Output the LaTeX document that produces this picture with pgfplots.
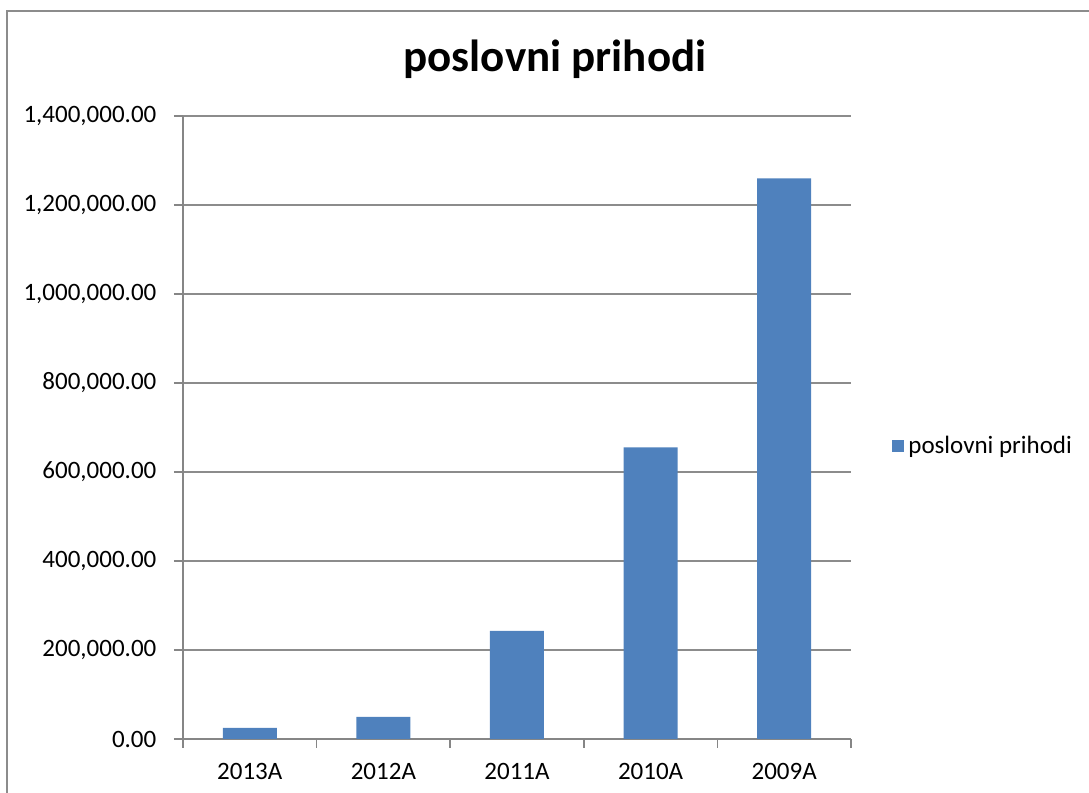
\documentclass[border=0pt]{standalone}
\usepackage{pgfplots}
\pgfplotsset{compat=1.18}
\usepackage{fontspec}
\setmainfont{Carlito}
\definecolor{barblue}{HTML}{4F81BD}
\definecolor{axgray}{HTML}{868686}
\definecolor{gridgray}{HTML}{8C8C8C}
\begin{document}
\begin{tikzpicture}
\useasboundingbox (0,0) rectangle (544.5pt,396.5pt);
\draw[gridgray, line width=1pt] (3.5pt,-2pt) -- (3.5pt,391pt) -- (547pt,391pt);
\node[font=\fontsize{22.5}{26}\selectfont\bfseries, anchor=base, inner sep=0pt] at (277.5pt,360.5pt) {poslovni prihodi};
\begin{axis}[
  at={(91.5pt,27pt)}, anchor=south west,
  scale only axis, width=334pt, height=311.5pt,
  xmin=-0.5, xmax=4.5, ymin=0, ymax=1400000,
  axis x line*=bottom, axis y line*=left,
  axis line style={axgray, line width=0.75pt},
  ytick={0,200000,400000,600000,800000,1000000,1200000,1400000},
  scaled y ticks=false,
  yticklabel style={/pgf/number format/fixed, /pgf/number format/fixed zerofill, /pgf/number format/precision=2, /pgf/number format/1000 sep={,}, /pgf/number format/assume math mode=true},
  yticklabel style={font=\fontsize{12.5}{15}\selectfont, xshift=-5.3pt},
  ymajorgrids, grid style={gridgray, line width=0.75pt},
  tick align=outside,
  major tick length=4.5pt,
  tick style={axgray, line width=0.75pt},
  xtick={0,1,2,3,4},
  xticklabels={2013A,2012A,2011A,2010A,2009A},
  xticklabel style={font=\fontsize{12.5}{15}\selectfont, yshift=-4pt},
  x tick style={draw=none},
  extra x ticks={-0.5,0.5,1.5,2.5,3.5,4.5},
  extra x tick labels={},
  extra x tick style={x tick style={draw=axgray, line width=0.75pt}, grid=none},
  legend style={at={(1.0614,0.470)}, anchor=west, draw=none, fill=none, inner sep=0pt, font=\fontsize{12.5}{15}\selectfont},
  legend cell align=left,
]
\addplot[ybar, bar width=27pt, fill=barblue, draw=none, area legend,
  legend image code/.code={\fill[barblue] (0pt,-3pt) rectangle (6pt,3pt);}]
  coordinates {(0,25000) (1,49500) (2,243000) (3,655500) (4,1260000)};
\addlegendentry{poslovni prihodi}
\end{axis}
\end{tikzpicture}
\end{document}
